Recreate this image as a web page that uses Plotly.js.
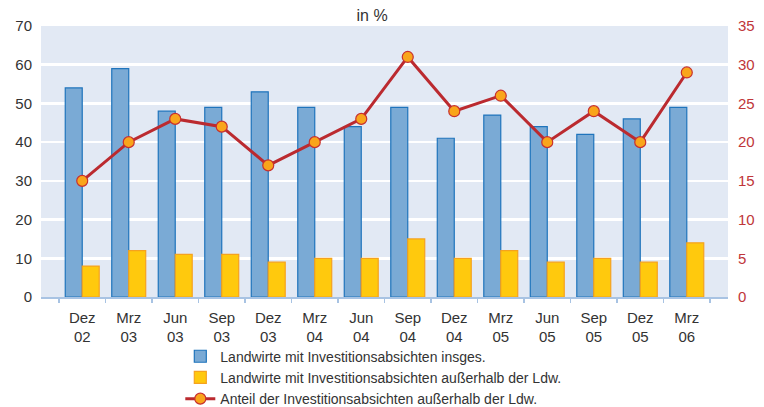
<!DOCTYPE html>
<html>
<head>
<meta charset="utf-8">
<script src="https://cdn.plot.ly/plotly-3.0.1.min.js"></script>
<style>html,body{margin:0;padding:0;background:#fff;}#chart{width:764px;height:407px;}</style>
</head>
<body>
<div id="chart"></div>
<script>
const categories = ["Dez<br>02","Mrz<br>03","Jun<br>03","Sep<br>03","Dez<br>03","Mrz<br>04","Jun<br>04","Sep<br>04","Dez<br>04","Mrz<br>05","Jun<br>05","Sep<br>05","Dez<br>05","Mrz<br>06"];
const insgesamt = [54, 59, 48, 49, 53, 49, 44, 49, 41, 47, 44, 42, 46, 49];
const ausserhalb = [8, 12, 11, 11, 9, 10, 10, 15, 10, 12, 9, 10, 9, 14];
const anteil = [15, 20, 23, 22, 17, 20, 23, 31, 24, 26, 20, 24, 20, 29];
const seriesNames = ["Landwirte mit Investitionsabsichten insges.","Landwirte mit Investitionsabsichten außerhalb der Ldw.","Anteil der Investitionsabsichten außerhalb der Ldw."];

const data = [
  {type:"bar", x:categories, y:insgesamt, name:seriesNames[0],
   marker:{color:"#7aaad5", line:{color:"#1f74bc", width:1.2}}},
  {type:"bar", x:categories, y:ausserhalb, name:seriesNames[1],
   marker:{color:"#ffc90d", line:{color:"#f5a21f", width:1.2}}},
  {type:"scatter", mode:"lines+markers", x:categories, y:anteil, yaxis:"y2", name:seriesNames[2],
   line:{color:"#bb2a2f", width:3},
   marker:{size:11, color:"#f9a51b", line:{color:"#c8302e", width:1.2}}}
];

const layout = {
  width:764, height:407,
  margin:{l:41, r:36, t:26, b:110, autoexpand:false},
  paper_bgcolor:"#ffffff",
  plot_bgcolor:"#e2e9f4",
  font:{family:"Liberation Sans, Arial, sans-serif", size:14, color:"#333333"},
  title:{text:"in %", xref:"container", x:0.487, xanchor:"center", yref:"container", y:0.976, yanchor:"top", font:{size:16, color:"#333333"}},
  barmode:"group", bargap:0.27, bargroupgap:0,
  showlegend:true,
  legend:{orientation:"v", xref:"container", yref:"container", x:0.236, xanchor:"left", y:0.163, yanchor:"top",
          font:{size:14, color:"#333333"}, tracegroupgap:0, itemwidth:30, bgcolor:"rgba(0,0,0,0)"},
  xaxis:{type:"category", tickson:"boundaries", ticks:"outside", ticklen:4, tickcolor:"#a8c3e3", tickwidth:1.5,
         showline:true, linecolor:"#a8c3e3", linewidth:1.5, showgrid:false, automargin:false, ticklabelstandoff:6,
         tickfont:{size:15, color:"#333333"}},
  yaxis:{range:[0,70], dtick:10, showgrid:true, gridcolor:"#ffffff", gridwidth:2.5, zeroline:false, automargin:false,
         ticks:"", ticklabelstandoff:8, tickfont:{size:15, color:"#333333"}},
  yaxis2:{range:[0,35], dtick:5, overlaying:"y", side:"right", showgrid:false, zeroline:false, automargin:false,
          ticks:"", ticklabelstandoff:9, tickfont:{size:15, color:"#c0363a"}}
};

Plotly.newPlot("chart", data, layout, {displayModeBar:false, staticPlot:true});
</script>
</body>
</html>
